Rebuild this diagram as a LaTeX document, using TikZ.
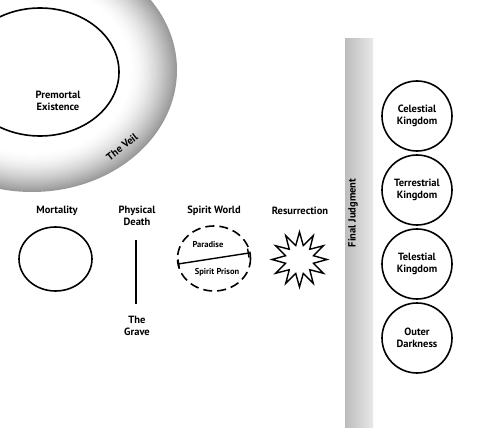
\documentclass[tikz,border=0pt]{standalone}
\usepackage{fontspec}
\setmainfont{PT Sans}
\usetikzlibrary{shapes.geometric,arrows.meta}

\tikzset{
  stagetext/.style={font=\fontsize{10.5}{11.5}\selectfont\bfseries, align=center, inner sep=0pt},
  smalltext/.style={stagetext, font=\fontsize{8.5}{10}\selectfont\bfseries},
  realm/.style={circle, draw, line width=1.6pt, minimum size=70pt, inner sep=0pt, stagetext}
}

\begin{document}
\begin{tikzpicture}[x=1pt,y=-1pt]

\def\ring{1.6pt}
\definecolor{barleft}{RGB}{188,188,188}
\definecolor{barright}{RGB}{232,232,232}

\useasboundingbox (0,0) rectangle (480,428);
\clip (0,0) rectangle (480,428);

\foreach \k in {0,...,40}{
  \pgfmathsetmacro\s{1-\k*0.008}
  \pgfmathsetmacro\g{40*((\s-0.68)/0.32)^1.6}
  \fill[black!\g] (32,70) ellipse [x radius=145*\s, y radius=122*\s];
}
\fill[white] (32,70) ellipse [x radius=145*0.68, y radius=122*0.68];

\draw[line width=\ring] (40,72) ellipse [x radius=79, y radius=64];

\node[stagetext] (premortal) at (58,101) {Premortal\\Existence};

\node[stagetext, rotate=38] (veil) at (122,147) {The Veil};

\node[stagetext] (mortality) at (57,211) {Mortality};
\node[stagetext] (death) at (137,216) {Physical\\Death};
\node[stagetext] (spirit) at (214,211) {Spirit World};
\node[stagetext] (resurrection) at (300,211) {Resurrection};

\draw[line width=\ring] (55.5,259) ellipse [x radius=36.5, y radius=32];

\coordinate (gravetop) at (136,240);
\coordinate (gravebottom) at (136,304);
\draw[line width=\ring] (gravetop) -- (gravebottom);
\node[stagetext] (grave) at (137,326) {The\\Grave};

\draw[line width=\ring, dash pattern=on 9pt off 5pt] (214,258.5) ellipse [x radius=36.5, y radius=32.5];

\coordinate (dividerleft) at (178,264);
\coordinate (dividerright) at (249,253);
\draw[line width=1.4pt, {Bar[width=9pt]}-{Bar[width=9pt]}] (dividerleft) -- (dividerright);

\node[smalltext] (paradise) at (208,245) {Paradise};
\node[smalltext] (prison) at (217,272) {Spirit Prison};

\node[star, star points=12, star point ratio=1.9, minimum size=55pt, inner sep=0pt, draw, line width=1.4pt] (burst) at (299.5,259.5) {};

\shade[left color=barleft, right color=barright] (345,39) rectangle (373,430);
\node[stagetext, rotate=90] (judgment) at (353,213) {Final Judgment};

\node[realm] (celestial) at (417,116) {Celestial\\Kingdom};
\node[realm] (terrestrial) at (417,190) {Terrestrial\\Kingdom};
\node[realm] (telestial) at (417,264) {Telestial\\Kingdom};
\node[realm] (darkness) at (417,338) {Outer\\Darkness};

\end{tikzpicture}
\end{document}
